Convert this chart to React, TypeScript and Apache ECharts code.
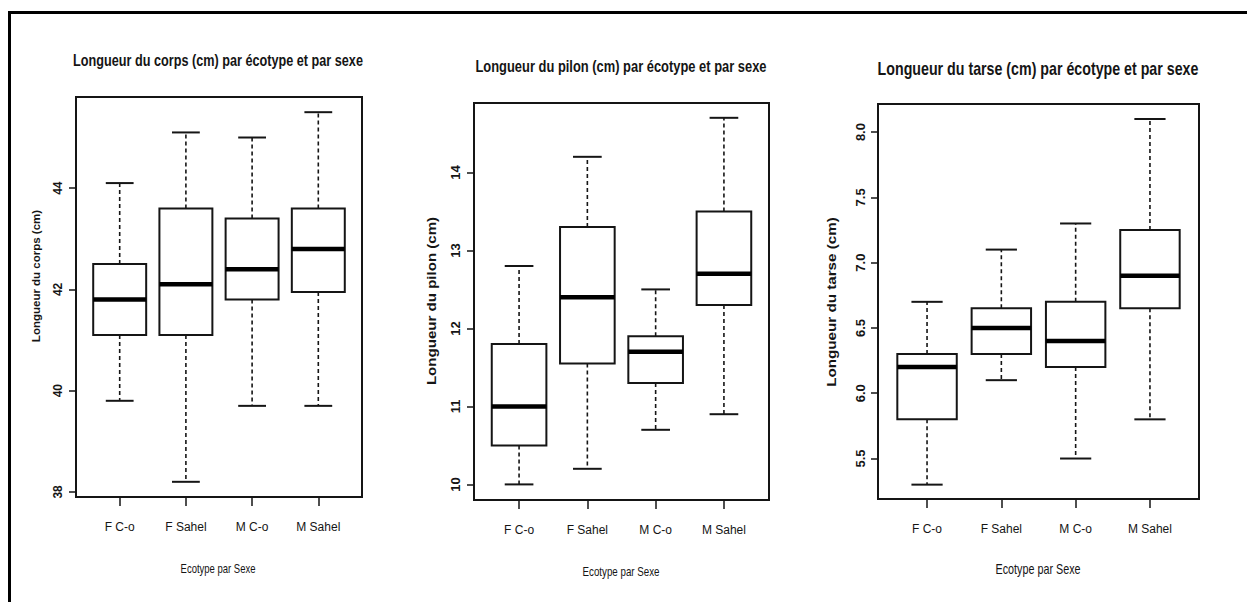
import React, { useEffect, useRef } from "react";
import * as echarts from "echarts";

// ---------- data ----------
const categories = ["F C-o", "F Sahel", "M C-o", "M Sahel"];

const corpsMin = [39.8, 38.2, 39.7, 39.7];
const corpsQ1 = [41.1, 41.1, 41.8, 41.95];
const corpsMedian = [41.8, 42.1, 42.4, 42.8];
const corpsQ3 = [42.5, 43.6, 43.4, 43.6];
const corpsMax = [44.1, 45.1, 45.0, 45.5];
const corpsTicks = [38, 40, 42, 44];

const pilonMin = [10.0, 10.2, 10.7, 10.9];
const pilonQ1 = [10.5, 11.55, 11.3, 12.3];
const pilonMedian = [11.0, 12.4, 11.7, 12.7];
const pilonQ3 = [11.8, 13.3, 11.9, 13.5];
const pilonMax = [12.8, 14.2, 12.5, 14.7];
const pilonTicks = [10, 11, 12, 13, 14];

const tarseMin = [5.3, 6.1, 5.5, 5.8];
const tarseQ1 = [5.8, 6.3, 6.2, 6.65];
const tarseMedian = [6.2, 6.5, 6.4, 6.9];
const tarseQ3 = [6.3, 6.65, 6.7, 7.25];
const tarseMax = [6.7, 7.1, 7.3, 8.1];
const tarseTicks = [5.5, 6.0, 6.5, 7.0, 7.5, 8.0];

const titles = [
  "Longueur du corps (cm) par écotype et par sexe",
  "Longueur du pilon (cm) par écotype et par sexe",
  "Longueur du tarse (cm) par écotype et par sexe",
];
const yTitles = ["Longueur du corps (cm)", "Longueur du pilon (cm)", "Longueur du tarse (cm)"];
const xTitle = "Ecotype par Sexe";
const categoryPositions = [1, 2, 3, 4];

const FONT = "'Liberation Sans', Arial, Helvetica, sans-serif";
const INK = "#151515";

function buildRows(mn: number[], q1: number[], md: number[], q3: number[], mx: number[]) {
  return categoryPositions.map((x, i) => [x, mn[i], q1[i], md[i], q3[i], mx[i]]);
}

function renderBox(params: any, api: any) {
  const x = api.value(0);
  const lo = api.value(1);
  const q1 = api.value(2);
  const md = api.value(3);
  const q3 = api.value(4);
  const hi = api.value(5);
  const half = 0.4;
  const cap = 0.21;
  const c = (a: number, b: number) => api.coord([a, b]);
  const tl = c(x - half, q3);
  const br = c(x + half, q1);
  const wStyle = { stroke: INK, lineWidth: 1.6, lineDash: [4, 3], fill: null };
  const sStyle = { stroke: INK, lineWidth: 2, fill: null };
  const line = (p1: number[], p2: number[], style: any) => ({
    type: "line",
    shape: { x1: p1[0], y1: p1[1], x2: p2[0], y2: p2[1] },
    style,
  });
  return {
    type: "group",
    children: [
      line(c(x, q3), c(x, hi), wStyle),
      line(c(x, q1), c(x, lo), wStyle),
      line(c(x - cap, hi), c(x + cap, hi), sStyle),
      line(c(x - cap, lo), c(x + cap, lo), sStyle),
      {
        type: "rect",
        shape: { x: tl[0], y: tl[1], width: br[0] - tl[0], height: br[1] - tl[1] },
        style: { fill: "#fff", stroke: INK, lineWidth: 2 },
      },
      line(c(x - half, md), c(x + half, md), { stroke: "#000", lineWidth: 4.5, fill: null }),
    ],
  };
}

const panels = [
  {
    grid: { left: 76, top: 97, width: 286, height: 400 },
    min: 37.9, max: 45.8, ticks: corpsTicks, fmt: (v: number) => String(v),
    rows: buildRows(corpsMin, corpsQ1, corpsMedian, corpsQ3, corpsMax),
    yLabelSize: 12, yLabelMargin: 12,
    title: { x: 218, y: 60, size: 17, sx: 0.745 },
    yTitle: { x: 36, y: 276, size: 11.5, sx: 1.0 },
    xTitle: { x: 218, y: 568, size: 13, sx: 0.73 },
  },
  {
    grid: { left: 474, top: 103, width: 295, height: 397 },
    min: 9.8, max: 14.89, ticks: pilonTicks, fmt: (v: number) => String(v),
    rows: buildRows(pilonMin, pilonQ1, pilonMedian, pilonQ3, pilonMax),
    yLabelSize: 13, yLabelMargin: 12,
    title: { x: 621, y: 66, size: 17, sx: 0.76 },
    yTitle: { x: 431, y: 301, size: 13, sx: 1.16 },
    xTitle: { x: 621, y: 571, size: 13, sx: 0.75 },
  },
  {
    grid: { left: 878, top: 104, width: 321, height: 395 },
    min: 5.19, max: 8.215, ticks: tarseTicks, fmt: (v: number) => v.toFixed(1),
    rows: buildRows(tarseMin, tarseQ1, tarseMedian, tarseQ3, tarseMax),
    yLabelSize: 13, yLabelMargin: 11,
    title: { x: 1038, y: 68, size: 18, sx: 0.79 },
    yTitle: { x: 831, y: 302, size: 13, sx: 1.17 },
    xTitle: { x: 1038, y: 570, size: 14, sx: 0.77 },
  },
];

function textEl(t: string, x: number, y: number, size: number, sx: number, weight: string, rotation = 0) {
  return {
    type: "text",
    x,
    y,
    rotation,
    scaleX: sx,
    silent: true,
    style: {
      text: t,
      fill: INK,
      fontSize: size,
      fontWeight: weight,
      fontFamily: FONT,
      align: "center",
      verticalAlign: "middle",
      textAlign: "center",
      textVerticalAlign: "middle",
    },
  };
}

function buildOption() {
  const graphics: any[] = [
    { type: "rect", silent: true, shape: { x: 8, y: 11, width: 1239, height: 3 }, style: { fill: "#000" } },
    { type: "rect", silent: true, shape: { x: 8, y: 11, width: 3, height: 591 }, style: { fill: "#000" } },
  ];
  panels.forEach((p, i) => {
    graphics.push(textEl(titles[i], p.title.x, p.title.y, p.title.size, p.title.sx, "bold"));
    graphics.push(textEl(yTitles[i], p.yTitle.x, p.yTitle.y, p.yTitle.size, p.yTitle.sx, "bold", Math.PI / 2));
    graphics.push(textEl(xTitle, p.xTitle.x, p.xTitle.y, p.xTitle.size, p.xTitle.sx, "normal"));
  });

  return {
    animation: false,
    backgroundColor: "#ffffff",
    graphic: graphics,
    grid: panels.map((p) => ({
      ...p.grid,
      show: true,
      borderColor: INK,
      borderWidth: 2,
      backgroundColor: "transparent",
      containLabel: false,
    })),
    xAxis: panels.map((p, i) => ({
      type: "value",
      gridIndex: i,
      min: 0.34,
      max: 4.66,
      axisLine: { show: false },
      splitLine: { show: false },
      axisTick: {
        show: true,
        inside: false,
        length: 9,
        customValues: categoryPositions,
        lineStyle: { color: INK, width: 1.5 },
      },
      axisLabel: {
        show: true,
        customValues: categoryPositions,
        formatter: (v: number) => categories[Math.round(v) - 1] ?? "",
        margin: 24,
        fontSize: 12,
        fontFamily: FONT,
        color: INK,
      },
    })),
    yAxis: panels.map((p, i) => ({
      type: "value",
      gridIndex: i,
      min: p.min,
      max: p.max,
      axisLine: { show: false },
      splitLine: { show: false },
      axisTick: {
        show: true,
        inside: false,
        length: 7,
        customValues: p.ticks,
        lineStyle: { color: INK, width: 1.5 },
      },
      axisLabel: {
        show: true,
        customValues: p.ticks,
        formatter: p.fmt,
        rotate: 90,
        margin: p.yLabelMargin,
        fontSize: p.yLabelSize,
        fontWeight: "bold",
        fontFamily: FONT,
        color: INK,
      },
    })),
    series: panels.map((p, i) => ({
      type: "custom",
      xAxisIndex: i,
      yAxisIndex: i,
      silent: true,
      clip: false,
      renderItem: renderBox,
      encode: { x: 0, y: [1, 2, 3, 4, 5] },
      data: p.rows,
    })),
  };
}

export default function App() {
  const ref = useRef<HTMLDivElement>(null);
  useEffect(() => {
    if (!ref.current) return;
    const chart = echarts.init(ref.current, null, { renderer: "svg" });
    chart.setOption(buildOption() as any);
    return () => chart.dispose();
  }, []);
  return (
    <div
      ref={ref}
      style={{ position: "absolute", left: 0, top: 0, width: 1247, height: 602, background: "#fff" }}
    />
  );
}
